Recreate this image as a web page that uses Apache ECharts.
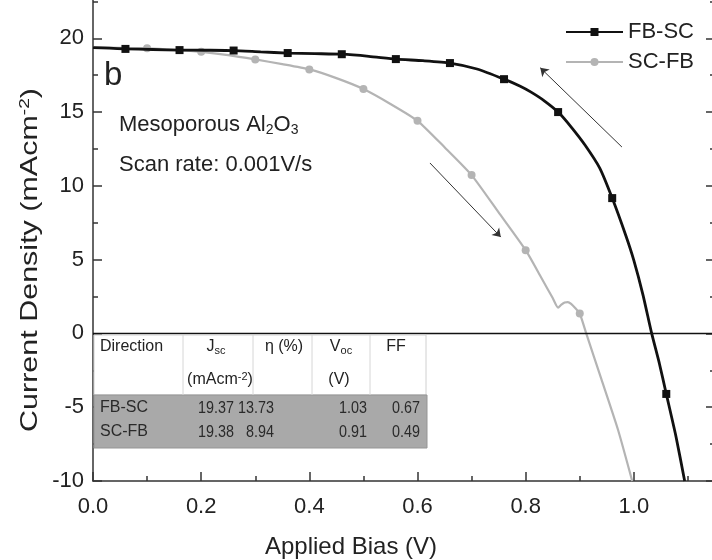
<!DOCTYPE html>
<html><head><meta charset="utf-8">
<script src="https://cdn.jsdelivr.net/npm/echarts@6/dist/echarts.min.js"></script>
<style>html,body{margin:0;padding:0;background:#fff}#c{width:712px;height:560px}</style>
</head><body><div id="c"></div>
<script>
// ---- data ----
const fbscV = [0, 0.03, 0.06, 0.11, 0.16, 0.21, 0.26, 0.31, 0.36, 0.41, 0.46, 0.51, 0.56, 0.61, 0.66, 0.71, 0.76, 0.79, 0.81, 0.835, 0.86, 0.885, 0.91, 0.937, 0.96, 0.985, 1.0, 1.017, 1.033, 1.047, 1.06, 1.078, 1.094];
const fbscJ = [19.37, 19.33, 19.28, 19.24, 19.20, 19.19, 19.17, 19.08, 19.00, 18.96, 18.92, 18.78, 18.59, 18.48, 18.32, 17.92, 17.23, 16.75, 16.35, 15.75, 15.00, 13.95, 12.75, 11.20, 9.17, 6.65, 4.95, 2.6, 0.0, -2.0, -4.10, -7.0, -10.0];
const fbscMarkerV = [0.06, 0.16, 0.26, 0.36, 0.46, 0.56, 0.66, 0.76, 0.86, 0.96, 1.06];

const scfbV = [0, 0.05, 0.1, 0.15, 0.2, 0.25, 0.3, 0.35, 0.4, 0.45, 0.5, 0.55, 0.6, 0.65, 0.7, 0.75, 0.8, 0.83, 0.85, 0.86, 0.866, 0.872, 0.878, 0.884, 0.892, 0.9, 0.912, 0.94, 0.971, 0.997];
const scfbJ = [19.38, 19.36, 19.32, 19.22, 19.08, 18.86, 18.57, 18.25, 17.89, 17.30, 16.56, 15.55, 14.41, 12.62, 10.73, 8.20, 5.64, 3.70, 2.40, 1.75, 1.95, 2.10, 2.12, 2.00, 1.70, 1.35, 0.0, -3.1, -6.56, -10.0];
const scfbMarkerV = [0.1, 0.2, 0.3, 0.4, 0.5, 0.6, 0.7, 0.8, 0.9];

const seriesNames = ['FB-SC', 'SC-FB'];
const arrowFBSC = [[0.978, 12.63], [0.827, 18.0]];
const arrowSCFB = [[0.623, 11.55], [0.754, 6.53]];

const tableHeader1 = ['Direction', 'J{sub|sc}', 'η (%)', 'V{sub|oc}', 'FF'];
const tableHeader2 = ['', '(mAcm{sup|-2})', '', '(V)', ''];
const tableRows = [
  ['FB-SC', '19.37', '13.73', '1.03', '0.67'],
  ['SC-FB', '19.38', '8.94', '0.91', '0.49']
];

// ---- build ----
const FONT = 'Liberation Sans, Arial, Helvetica, sans-serif';
function build(V, J, M) {
  return V.map((v, i) => {
    const d = { value: [v, J[i]] };
    if (!M.some(m => Math.abs(m - v) < 1e-9)) d.symbol = 'none';
    return d;
  });
}
const ts = () => ({ color: '#333', width: 1.5, type: 'solid' });

const chart = echarts.init(document.getElementById('c'), null, { renderer: 'canvas' });

const graphics = [];
function txt(x, y, text, size, align, extra, el) {
  graphics.push(Object.assign({
    type: 'text', x: x, y: y, silent: true, z: 100,
    style: Object.assign({
      text: text, fontSize: size, fontFamily: FONT, fill: '#222',
      align: align || 'left', verticalAlign: 'middle'
    }, extra || {})
  }, el || {}));
}
const subRich = (fs, fill) => ({
  sub: { fontSize: fs, fontFamily: FONT, fill: fill || '#222', verticalAlign: 'bottom', lineHeight: 8 },
  sup: { fontSize: fs, fontFamily: FONT, fill: fill || '#222', verticalAlign: 'top', lineHeight: 8 }
});

// annotations
txt(104, 76, 'b', 33);
txt(119, 125, 'Mesoporous Al{sub|2}O{sub|3}', 22, 'left', { rich: subRich(14), lineHeight: 24 });
txt(119, 165, 'Scan rate: 0.001V/s', 22);
// axis titles
txt(351, 547, 'Applied Bias (V)', 24, 'center');
txt(30, 260, 'Current Density (mAcm{sup|-2})', 24, 'center',
  { lineHeight: 26, rich: subRich(15) }, { rotation: Math.PI / 2, scaleX: 1.27 });

// table
const colX = [94, 183, 253, 312, 370, 426];
graphics.push({ type: 'rect', silent: true, z: 90, shape: { x: 94, y: 335, width: 332, height: 60 },
  style: { fill: '#fff', stroke: '#d0d0d0', lineWidth: 1 } });
for (let i = 1; i < colX.length - 1; i++) {
  graphics.push({ type: 'line', silent: true, z: 91, shape: { x1: colX[i], y1: 335, x2: colX[i], y2: 395 },
    style: { stroke: '#d6d6d6', lineWidth: 1 } });
}
graphics.push({ type: 'rect', silent: true, z: 90, shape: { x: 94, y: 395, width: 333, height: 53 },
  style: { fill: '#a9a9a9', stroke: '#959595', lineWidth: 1 } });
const hdrCenter = [null, 216, 284, 341, 396];
txt(100, 347, tableHeader1[0], 16, 'left', { rich: subRich(11), lineHeight: 18 });
for (let c = 1; c < 5; c++) {
  txt(hdrCenter[c], 347, tableHeader1[c], 16, 'center', { rich: subRich(11), lineHeight: 18 });
  if (tableHeader2[c]) txt(hdrCenter[c] + (c === 1 ? 4 : -2), 380, tableHeader2[c], 16, 'center', { rich: subRich(11), lineHeight: 18 });
}
const rowY = [408, 432];
const valRight = [null, 234, 274, 367, 420];
tableRows.forEach((r, ri) => {
  txt(100, rowY[ri], r[0], 16, 'left', { fill: '#2a2a2a' });
  for (let c = 1; c < 5; c++) txt(valRight[c], rowY[ri], r[c], 16.5, 'right', { fill: '#2a2a2a' }, { scaleX: 0.87 });
});

const yCommon = () => ({
  type: 'value', min: -10, max: 25, interval: 5,
  splitLine: { show: false }, minorSplitLine: { show: false }
});

const option = {
  animation: false,
  backgroundColor: '#fff',
  grid: [
    { left: 93, right: -30, top: -35.5, bottom: 79, containLabel: false, outerBoundsMode: 'none' },
    { left: 93, right: -3, top: -35.5, bottom: 79, containLabel: false, outerBoundsMode: 'none' }
  ],
  legend: {
    orient: 'vertical', left: 560, top: 16, itemWidth: 57, itemHeight: 10, itemGap: 8,
    textStyle: { fontSize: 22, color: '#222', fontFamily: FONT },
    data: seriesNames
  },
  xAxis: [{
    type: 'value', gridIndex: 0, min: 0, max: 1.2, interval: 0.2, position: 'bottom',
    axisLine: { show: true, onZero: false, lineStyle: ts() },
    axisTick: { show: true, inside: true, length: 9, lineStyle: ts() },
    minorTick: { show: true, splitNumber: 2, length: 5, lineStyle: ts() },
    splitLine: { show: false }, minorSplitLine: { show: false },
    axisLabel: { fontSize: 22, color: '#222', margin: 15, fontFamily: FONT, formatter: v => v.toFixed(1) }
  }, {
    type: 'value', gridIndex: 1, min: 0, max: 1.15, show: false
  }],
  yAxis: [Object.assign(yCommon(), {
    gridIndex: 0, position: 'left',
    axisLine: { show: true, onZero: false, lineStyle: ts() },
    axisTick: { show: true, inside: true, length: 9, lineStyle: ts() },
    minorTick: { show: true, splitNumber: 2, length: 5, lineStyle: ts() },
    axisLabel: { fontSize: 22, color: '#222', margin: 9, fontFamily: FONT, formatter: v => (v > 20 ? '' : String(v)) }
  }), Object.assign(yCommon(), {
    gridIndex: 1, position: 'right',
    axisLine: { show: false, onZero: false },
    axisTick: { show: true, inside: true, length: 9, lineStyle: ts() },
    minorTick: { show: true, splitNumber: 2, length: 5, lineStyle: ts() },
    axisLabel: { show: false }
  })],
  series: [{
    name: seriesNames[0], type: 'line', xAxisIndex: 0, yAxisIndex: 0,
    data: build(fbscV, fbscJ, fbscMarkerV),
    symbol: 'rect', symbolSize: 8, smooth: 0.2,
    lineStyle: { color: '#111', width: 2.8 }, itemStyle: { color: '#111' },
    emphasis: { disabled: true }, z: 3,
    markLine: {
      silent: true, symbol: ['none', 'arrow'], symbolSize: 8, label: { show: false },
      lineStyle: { color: '#333', width: 1, type: 'solid' }, emphasis: { disabled: true },
      data: [
        { yAxis: 0, lineStyle: { color: '#111', width: 1.3, type: 'solid' } },
        [{ coord: arrowFBSC[0] }, { coord: arrowFBSC[1] }],
        [{ coord: arrowSCFB[0] }, { coord: arrowSCFB[1] }]
      ]
    }
  }, {
    name: seriesNames[1], type: 'line', xAxisIndex: 0, yAxisIndex: 0,
    data: build(scfbV, scfbJ, scfbMarkerV),
    symbol: 'circle', symbolSize: 8, smooth: 0.2,
    lineStyle: { color: '#b4b4b4', width: 2.2 }, itemStyle: { color: '#b4b4b4' },
    emphasis: { disabled: true }, z: 2
  }],
  graphic: { elements: graphics }
};
chart.setOption(option);
</script>
</body></html>
